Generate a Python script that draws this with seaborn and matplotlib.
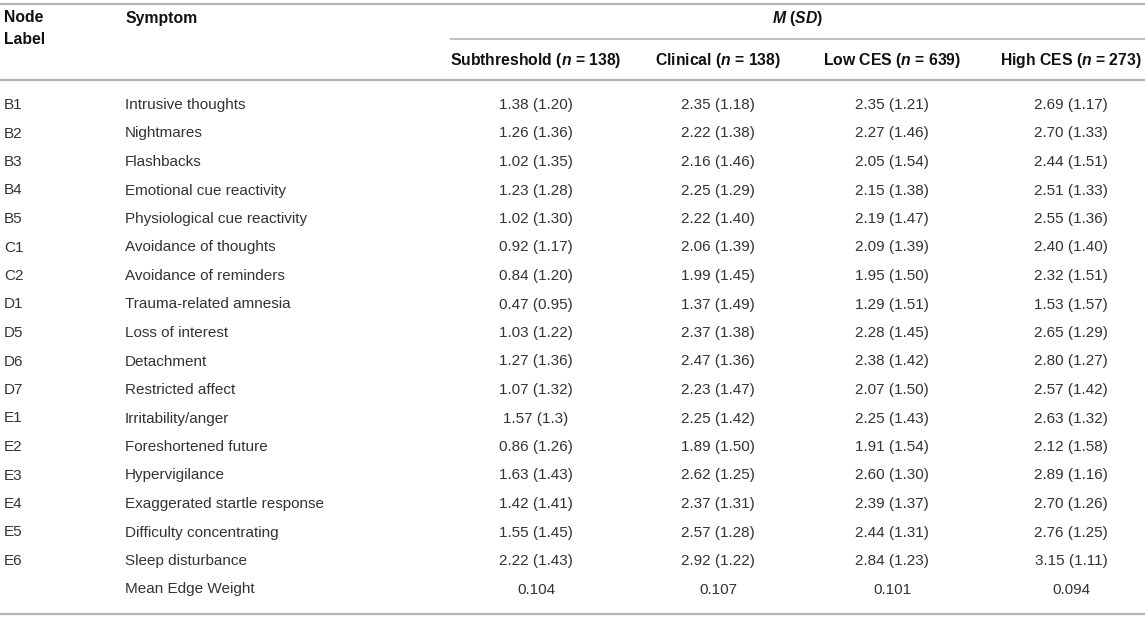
#!/usr/bin/env python3

import matplotlib
matplotlib.use('Agg')
import matplotlib.pyplot as plt
import seaborn as sns

# table content
node_labels = ['B1', 'B2', 'B3', 'B4', 'B5', 'C1', 'C2', 'D1', 'D5', 'D6', 'D7',
	'E1', 'E2', 'E3', 'E4', 'E5', 'E6', '']
symptoms = ['Intrusive thoughts', 'Nightmares', 'Flashbacks', 'Emotional cue reactivity',
	'Physiological cue reactivity', 'Avoidance of thoughts', 'Avoidance of reminders',
	'Trauma-related amnesia', 'Loss of interest', 'Detachment', 'Restricted affect',
	'Irritability/anger', 'Foreshortened future', 'Hypervigilance',
	'Exaggerated startle response', 'Difficulty concentrating', 'Sleep disturbance',
	'Mean Edge Weight']

groups = ['Subthreshold', 'Clinical', 'Low CES', 'High CES']
group_n = [138, 138, 639, 273]

sub_m = ['1.38', '1.26', '1.02', '1.23', '1.02', '0.92', '0.84', '0.47', '1.03', '1.27', '1.07', '1.57', '0.86', '1.63', '1.42', '1.55', '2.22']
sub_sd = ['1.20', '1.36', '1.35', '1.28', '1.30', '1.17', '1.20', '0.95', '1.22', '1.36', '1.32', '1.3', '1.26', '1.43', '1.41', '1.45', '1.43']
cli_m = ['2.35', '2.22', '2.16', '2.25', '2.22', '2.06', '1.99', '1.37', '2.37', '2.47', '2.23', '2.25', '1.89', '2.62', '2.37', '2.57', '2.92']
cli_sd = ['1.18', '1.38', '1.46', '1.29', '1.40', '1.39', '1.45', '1.49', '1.38', '1.36', '1.47', '1.42', '1.50', '1.25', '1.31', '1.28', '1.22']
low_m = ['2.35', '2.27', '2.05', '2.15', '2.19', '2.09', '1.95', '1.29', '2.28', '2.38', '2.07', '2.25', '1.91', '2.60', '2.39', '2.44', '2.84']
low_sd = ['1.21', '1.46', '1.54', '1.38', '1.47', '1.39', '1.50', '1.51', '1.45', '1.42', '1.50', '1.43', '1.54', '1.30', '1.37', '1.31', '1.23']
high_m = ['2.69', '2.70', '2.44', '2.51', '2.55', '2.40', '2.32', '1.53', '2.65', '2.80', '2.57', '2.63', '2.12', '2.89', '2.70', '2.76', '3.15']
high_sd = ['1.17', '1.33', '1.51', '1.33', '1.36', '1.40', '1.51', '1.57', '1.29', '1.27', '1.42', '1.32', '1.58', '1.16', '1.26', '1.25', '1.11']
edge_weight = ['0.104', '0.107', '0.101', '0.094']

# layout (pixel units)
W, H = 1145, 618
col_node = 4
col_symptom = 125
col_centers = [536, 718, 892, 1071]
row_top = 105
row_step = 28.5
rule_color = '#b4b4b4'
text_color = '#333333'
FS = 11
FS_HEAD = 11.3

def main():
	sns.set_theme(style='white')
	plt.rcParams['font.family'] = ['Liberation Sans', 'DejaVu Sans']
	plt.rcParams['mathtext.fontset'] = 'custom'
	plt.rcParams['mathtext.it'] = 'Liberation Sans:italic:bold'
	plt.rcParams['mathtext.rm'] = 'Liberation Sans:bold'

	fig = plt.figure(figsize=(W / 100, H / 100), dpi=100)
	ax = fig.add_axes([0, 0, 1, 1])
	ax.set_xlim(0, W)
	ax.set_ylim(H, 0)
	ax.axis('off')

	# rules
	ax.hlines(4, 0, W, color=rule_color, lw=1.6)
	ax.hlines(39, 450, W, color=rule_color, lw=1.2)
	ax.hlines(80, 0, W, color=rule_color, lw=1.6)
	ax.hlines(614, 0, W, color=rule_color, lw=1.6)

	# header
	hd = dict(fontsize=FS_HEAD, fontweight='bold', color='#111111', va='center')
	ax.text(col_node, 18, 'Node', ha='left', **hd)
	ax.text(col_node, 40, 'Label', ha='left', **hd)
	ax.text(col_symptom, 18, 'Symptom', ha='left', **hd)
	ax.text((450 + W) / 2, 18, '$M$ ($SD$)', ha='center', **hd)
	for g, n, cx in zip(groups, group_n, col_centers):
		ax.text(cx, 61, '{0} ($n$ = {1})'.format(g, n), ha='center', **hd)

	# body
	cols = [(sub_m, sub_sd), (cli_m, cli_sd), (low_m, low_sd), (high_m, high_sd)]
	bd = dict(fontsize=FS, color=text_color, va='center')
	for i, (lab, sym) in enumerate(zip(node_labels, symptoms)):
		y = row_top + i * row_step
		ax.text(col_node, y, lab, ha='left', **bd)
		ax.text(col_symptom, y, sym, ha='left', **bd)
		for j, (ms, sds) in enumerate(cols):
			if i < len(ms):
				s = '{0} ({1})'.format(ms[i], sds[i])
			else:
				s = edge_weight[j]
			ax.text(col_centers[j], y, s, ha='center', **bd)

	plt.savefig('out.png', dpi=100)

if __name__ == '__main__':
	main()
